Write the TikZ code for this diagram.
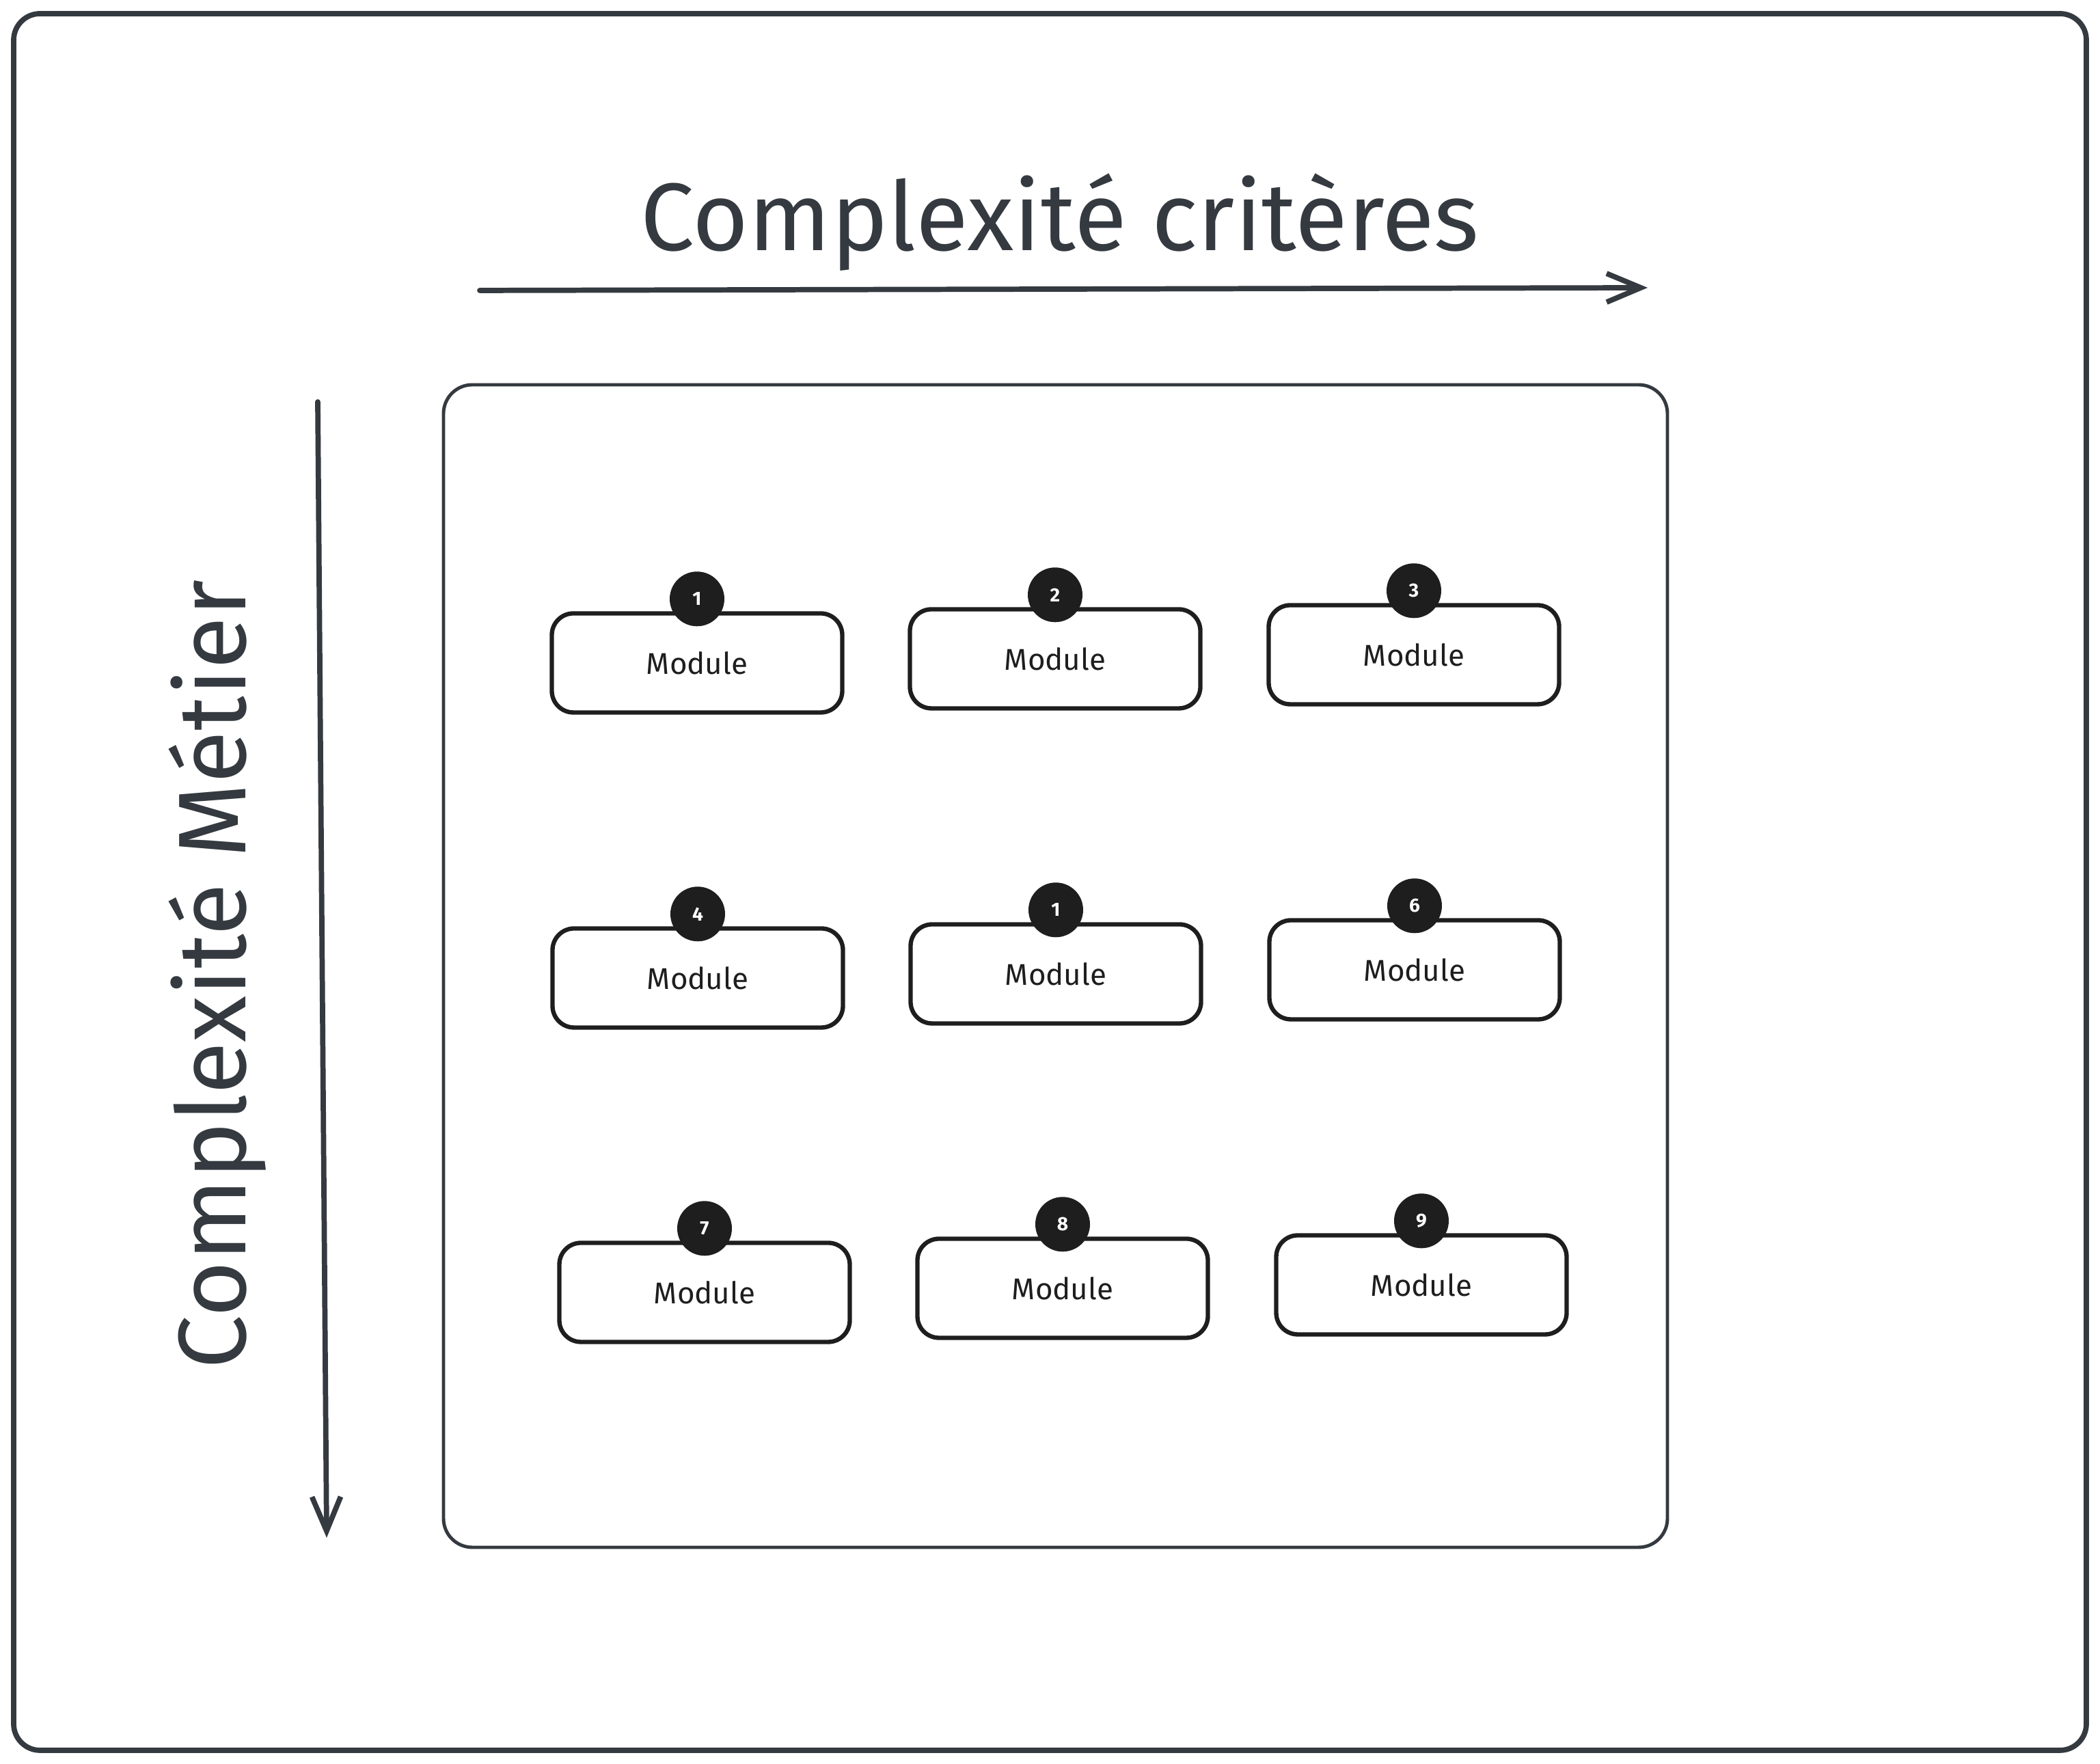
\documentclass[tikz,border=0pt]{standalone}
\usepackage{fontspec}
\setmainfont{Fira Sans}
\usetikzlibrary{arrows.meta}
\definecolor{ink}{HTML}{343A40}
\definecolor{dark}{HTML}{1E1E1E}
\tikzset{
   module/.style={draw=dark, line width=1.8pt, rounded corners=9pt, minimum width=4.25cm, minimum height=1.45cm, text=dark, font=\fontsize{12.5}{15}\selectfont},
   badge/.style={circle, fill=dark, minimum size=.8cm, inner sep=0pt, text=white, font=\fontsize{8}{9}\selectfont\bfseries},
   axis/.style={ink, line width=2.2pt, ->},
   axislabel/.style={ink, anchor=base, font=\fontsize{40}{44}\selectfont}
}
\begin{document}
\begin{tikzpicture}[>={Straight Barb[length=5mm, width=4.2mm]}, line cap=round]
\useasboundingbox(0,0)rectangle(30.73,25.81);
\draw[ink, line width=2.2pt, rounded corners=11pt](.2,.2)rectangle(30.53,25.61);
\draw[ink, line width=1.4pt, rounded corners=12pt](6.49,3.17)rectangle(24.40,20.18);
% axes
\node[axislabel](xlabel) at (15.51,22.14){Complexité critères};
\node[axislabel, rotate=90](ylabel) at (3.59,11.55){Complexité Métier};
\coordinate(x0) at (7.02,21.56);
\coordinate(x1) at (24.11,21.60);
\coordinate(y0) at (4.65,19.93);
\coordinate(y1) at (4.78,3.31);
\draw[axis](x0)--(x1);
\draw[axis](y0)--(y1);
% modules
\foreach \i/\n/\x/\y in {1/1/10.20/16.11, 2/2/15.44/16.17, 3/3/20.69/16.23,
   4/4/10.21/11.50, 5/1/15.45/11.56, 6/6/20.70/11.62,
   7/7/10.31/6.90, 8/8/15.55/6.96, 9/9/20.80/7.01}
{
   \node[module](m\i) at (\x,\y){Module};
   \node[badge](b\i) at ([yshift=.18cm]m\i.north){\n};
}
\end{tikzpicture}
\end{document}
